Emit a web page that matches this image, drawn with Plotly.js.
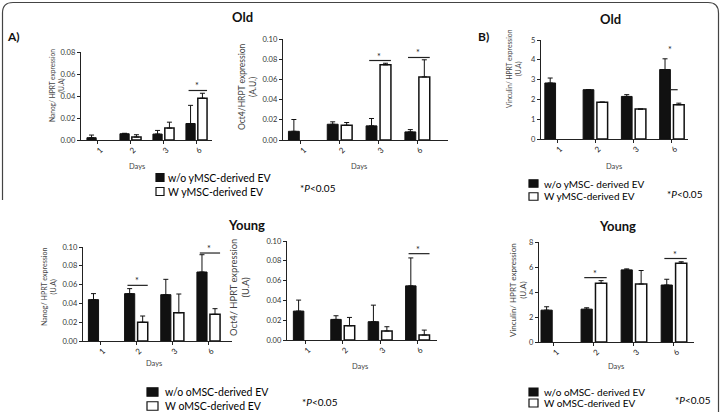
<!DOCTYPE html>
<html>
<head>
<meta charset="utf-8">
<script src="https://cdn.plot.ly/plotly-3.0.1.min.js"></script>
<style>html,body{margin:0;padding:0;background:#fff;}#chart{width:721px;height:412px;}</style>
</head>
<body>
<div id="chart"></div>
<script>
// ---------------- DATA ----------------
const days = ['1', '2', '3', '6'];

// Old (A) Nanog
const oldNanogWo = [0.0021, 0.0057, 0.0054, 0.0150];
const oldNanogWoErr = [0.0024, 0.0004, 0.0033, 0.0165];
const oldNanogW = [null, 0.0027, 0.0108, 0.0380];
const oldNanogWErr = [null, 0.0021, 0.0054, 0.0045];
const oldNanogSigDays = [3];
const oldNanogSigLevel = [0.045];

// Old (A) Oct4
const oldOct4Wo = [0.0086, 0.0156, 0.0140, 0.0080];
const oldOct4WoErr = [0.0117, 0.0024, 0.0073, 0.0023];
const oldOct4W = [null, 0.0146, 0.0744, 0.0625];
const oldOct4WErr = [null, 0.0027, 0.0016, 0.0169];
const oldOct4SigDays = [2, 3];
const oldOct4SigLevel = [0.0787, 0.0817];

// Old (B) Vinculin
const oldVincWo = [2.83, 2.49, 2.15, 3.51];
const oldVincWoErr = [0.25, 0, 0.09, 0.54];
const oldVincW = [null, 1.86, 1.51, 1.73];
const oldVincWErr = [null, 0, 0, 0.08];
const oldVincStarDays = [3];
const oldVincStarLevel = [4.30];
const oldVincDashLevel = [2.49];

// Young (A) Nanog
const youngNanogWo = [0.0440, 0.0504, 0.0493, 0.0734];
const youngNanogWoErr = [0.0064, 0.0053, 0.0163, 0.0184];
const youngNanogW = [null, 0.0199, 0.0301, 0.0284];
const youngNanogWErr = [null, 0.0067, 0.0199, 0.0060];
const youngNanogSigDays = [1, 3];
const youngNanogSigLevel = [0.0592, 0.0936];

// Young (A) Oct4
const youngOct4Wo = [0.0292, 0.0208, 0.0185, 0.0547];
const youngOct4WoErr = [0.0111, 0.0037, 0.0167, 0.0282];
const youngOct4W = [null, 0.0144, 0.0091, 0.0050];
const youngOct4WErr = [null, 0.0084, 0.0043, 0.0050];
const youngOct4SigDays = [3];
const youngOct4SigLevel = [0.0872];

// Young (B) Vinculin
const youngVincWo = [2.55, 2.63, 5.77, 4.56];
const youngVincWoErr = [0.27, 0.11, 0.08, 0.46];
const youngVincW = [null, 4.70, 4.64, 6.31];
const youngVincWErr = [null, 0.21, 1.08, 0.11];
const youngVincSigDays = [1, 3];
const youngVincSigLevel = [5.15, 6.68];

const legendOldA = ['w/o yMSC-derived EV', 'W yMSC-derived EV'];
const legendOldB = ['w/o yMSC- derived EV', 'W yMSC-derived EV'];
const legendYoungA = ['w/o oMSC-derived EV', 'W oMSC-derived EV'];
const legendYoungB = ['w/o oMSC- derived EV', 'W oMSC-derived EV'];
const pText = '*<i>P</i>&lt;0.05';

// ---------------- LAYOUT HELPERS ----------------
const W = 721, H = 412;
const fx = p => p / W;
const fy = p => 1 - p / H;
const FONT = 'Lato, "Open Sans", sans-serif';
const dayIdx = days.map((d, i) => i);

const panels = [
  {wo: oldNanogWo, woE: oldNanogWoErr, w: oldNanogW, wE: oldNanogWErr, sigD: oldNanogSigDays, sigL: oldNanogSigLevel,
   xd: [81, 212], yd: [52, 140], xr: [-0.5, 3.47], yr: [0, 0.08], dt: 0.02, fmt: '.2f',
   ytitle: 'Nanog/ HPRT expression<br>(U.A)', ytx: 57, yty: 86, ytsize: 6.6, daysx: 137, daysy: 167},
  {wo: oldOct4Wo, woE: oldOct4WoErr, w: oldOct4W, wE: oldOct4WErr, sigD: oldOct4SigDays, sigL: oldOct4SigLevel,
   xd: [283, 448], yd: [39, 140], xr: [-0.46, 3.79], yr: [0, 0.10], dt: 0.02, fmt: '.2f',
   ytitle: 'Oct4/HRPT expression<br>(A.U.)', ytx: 247, yty: 87, ytsize: 8.5, daysx: 359, daysy: 166},
  {wo: oldVincWo, woE: oldVincWoErr, w: oldVincW, wE: oldVincWErr, sigD: [], sigL: [],
   xd: [541, 688], yd: [40, 139], xr: [-0.42, 3.42], yr: [0, 5], dt: 1, fmt: 'd',
   ytitle: 'Vinculin/ HPRT expression<br>(U.A)', ytx: 514, yty: 69, ytsize: 6.7, daysx: 614, daysy: 166},
  {wo: youngNanogWo, woE: youngNanogWoErr, w: youngNanogW, wE: youngNanogWErr, sigD: youngNanogSigDays, sigL: youngNanogSigLevel,
   xd: [83, 232], yd: [247, 341], xr: [-0.47, 3.65], yr: [0, 0.10], dt: 0.02, fmt: '.2f',
   ytitle: 'Nanog/ HPRT expression<br>(U.A)', ytx: 49, yty: 287, ytsize: 7.1, daysx: 154, daysy: 363},
  {wo: youngOct4Wo, woE: youngOct4WoErr, w: youngOct4W, wE: youngOct4WErr, sigD: youngOct4SigDays, sigL: youngOct4SigLevel,
   xd: [287, 437], yd: [241, 340], xr: [-0.49, 3.52], yr: [0, 0.10], dt: 0.02, fmt: '.2f',
   ytitle: 'Oct4/ HPRT expression<br>(U.A)', ytx: 239, yty: 288, ytsize: 9.4, daysx: 360, daysy: 366},
  {wo: youngVincWo, woE: youngVincWoErr, w: youngVincW, wE: youngVincWErr, sigD: youngVincSigDays, sigL: youngVincSigLevel,
   xd: [539, 694], yd: [242, 342], xr: [-0.37, 3.5], yr: [0, 8], dt: 2, fmt: 'd',
   ytitle: 'Vinculin/ HPRT expression<br>(U.A)', ytx: 518, yty: 290, ytsize: 8, daysx: 616, daysy: 366}
];

const BW = 0.28, GAP = 0.04;
const traces = [];
const shapes = [];
const annotations = [];
const layout = {
  width: W, height: H, autosize: false,
  margin: {l: 0, r: 0, t: 0, b: 0},
  paper_bgcolor: '#fff', plot_bgcolor: 'rgba(0,0,0,0)',
  barmode: 'overlay', showlegend: false,
  font: {family: FONT, color: '#333'}
};

panels.forEach((p, i) => {
  const n = i === 0 ? '' : String(i + 1);
  const xa = 'x' + n, ya = 'y' + n;
  const zeros = p.wo.map(() => 0);
  traces.push({
    type: 'bar', x: dayIdx, y: p.wo, xaxis: xa, yaxis: ya,
    width: BW, offset: -BW - GAP,
    marker: {color: '#111', line: {color: '#111', width: 1}},
    error_y: {type: 'data', array: p.woE, arrayminus: zeros, symmetric: false, color: '#111', thickness: 1, width: 2.5},
    hoverinfo: 'skip'
  });
  traces.push({
    type: 'bar', x: dayIdx, y: p.w, xaxis: xa, yaxis: ya,
    width: BW, offset: GAP,
    marker: {color: '#fff', line: {color: '#111', width: 1.5}},
    error_y: {type: 'data', array: p.wE, arrayminus: zeros, symmetric: false, color: '#111', thickness: 1, width: 2.5},
    hoverinfo: 'skip'
  });
  layout['xaxis' + n] = {
    domain: [fx(p.xd[0]), fx(p.xd[1])], range: p.xr, anchor: ya,
    showline: true, linecolor: '#222', linewidth: 1.2, showgrid: false, zeroline: false,
    tickmode: 'array', tickvals: dayIdx, ticktext: days, tickangle: -45,
    ticks: 'outside', ticklen: 3, tickcolor: '#222', tickfont: {family: FONT, size: 8, color: '#222'},
    ticklabelstandoff: -2, ticklabelshift: 3,
    fixedrange: true
  };
  layout['yaxis' + n] = {
    domain: [fy(p.yd[1]), fy(p.yd[0])], range: p.yr, anchor: xa,
    showline: true, linecolor: '#222', linewidth: 1.2, showgrid: false, zeroline: false,
    dtick: p.dt, tick0: 0, tickformat: p.fmt,
    ticks: 'outside', ticklen: 3, tickcolor: '#222', tickfont: {family: FONT, size: 7.5, color: '#333'},
    fixedrange: true
  };
  // axis titles
  annotations.push({xref: 'paper', yref: 'paper', x: fx(p.ytx), y: fy(p.yty), text: p.ytitle, textangle: -90,
    showarrow: false, xanchor: 'center', yanchor: 'middle', font: {family: FONT, size: p.ytsize, color: '#444'}});
  annotations.push({xref: 'paper', yref: 'paper', x: fx(p.daysx), y: fy(p.daysy), text: 'Days',
    showarrow: false, xanchor: 'center', yanchor: 'middle', font: {family: FONT, size: 7.5, color: '#444'}});
  // significance bars
  p.sigD.forEach((d, k) => {
    shapes.push({type: 'line', xref: xa, yref: ya, x0: d - 0.24, x1: d + 0.32, y0: p.sigL[k], y1: p.sigL[k],
      line: {color: '#222', width: 1.2}});
    annotations.push({xref: xa, yref: ya, x: d + 0.02, y: p.sigL[k], text: '*', showarrow: false,
      xanchor: 'center', yanchor: 'bottom', yshift: -3, font: {family: FONT, size: 9, color: '#222'}});
  });
});

// special Old Vinculin marks (star above day 6 and short dash)
oldVincStarDays.forEach((d, k) => {
  annotations.push({xref: 'x3', yref: 'y3', x: d - 0.04, y: oldVincStarLevel[k], text: '*', showarrow: false,
    xanchor: 'center', yanchor: 'bottom', yshift: -3, font: {family: FONT, size: 9, color: '#222'}});
  shapes.push({type: 'line', xref: 'x3', yref: 'y3', x0: d - 0.04, x1: d + 0.15, y0: oldVincDashLevel[k], y1: oldVincDashLevel[k],
    line: {color: '#222', width: 1.2}});
});

// panel titles and labels
const bigText = (x, y, t, size) => annotations.push({xref: 'paper', yref: 'paper', x: fx(x), y: fy(y), text: '<b>' + t + '</b>',
  showarrow: false, xanchor: 'center', yanchor: 'middle', font: {family: FONT, size: size, color: '#111'}});
bigText(242, 17, 'Old', 13);
bigText(610, 19, 'Old', 13);
bigText(246, 225, 'Young', 13);
bigText(617, 226, 'Young', 13);
bigText(14, 37, 'A)', 12);
bigText(483, 37, 'B)', 12);

// legends
function legend(sqx, sqy1, sqy2, sqw, sqh, tx, labels, size) {
  [sqy1, sqy2].forEach((yy, k) => {
    shapes.push({type: 'rect', xref: 'paper', yref: 'paper', x0: fx(sqx), x1: fx(sqx + sqw), y0: fy(yy + sqh / 2), y1: fy(yy - sqh / 2),
      fillcolor: k === 0 ? '#111' : '#fff', line: {color: '#111', width: 1.2}});
    annotations.push({xref: 'paper', yref: 'paper', x: fx(tx), y: fy(yy), text: labels[k], showarrow: false,
      xanchor: 'left', yanchor: 'middle', font: {family: FONT, size: size, color: '#000'}});
  });
}
legend(156, 177.5, 191.5, 8, 8, 166, legendOldA, 10.5);
legend(529, 183.5, 196.5, 9, 7.5, 542, legendOldB, 10);
legend(147, 392, 406, 11, 8.5, 163, legendYoungA, 10.5);
legend(529, 392, 403, 9, 8, 542, legendYoungB, 10);
const pNote = (x, y) => annotations.push({xref: 'paper', yref: 'paper', x: fx(x), y: fy(y), text: pText, showarrow: false,
  xanchor: 'left', yanchor: 'middle', font: {family: FONT, size: 10, color: '#000'}});
pNote(298, 188);
pNote(665, 194);
pNote(300, 402);
pNote(673, 400);

// outer frame
const pth = 'M ' + fx(2.5) + ' ' + fy(200) + ' L ' + fx(2.5) + ' ' + fy(13) + ' Q ' + fx(2.5) + ' ' + fy(2.5) + ' ' + fx(13) + ' ' + fy(2.5) +
  ' L ' + fx(708) + ' ' + fy(2.5) + ' Q ' + fx(718.5) + ' ' + fy(2.5) + ' ' + fx(718.5) + ' ' + fy(13) + ' L ' + fx(718.5) + ' ' + fy(412);
shapes.push({type: 'path', xref: 'paper', yref: 'paper', path: pth, line: {color: '#444', width: 1.2}});

layout.shapes = shapes;
layout.annotations = annotations;
Plotly.newPlot('chart', traces, layout, {staticPlot: true, displayModeBar: false});
</script>
</body>
</html>
